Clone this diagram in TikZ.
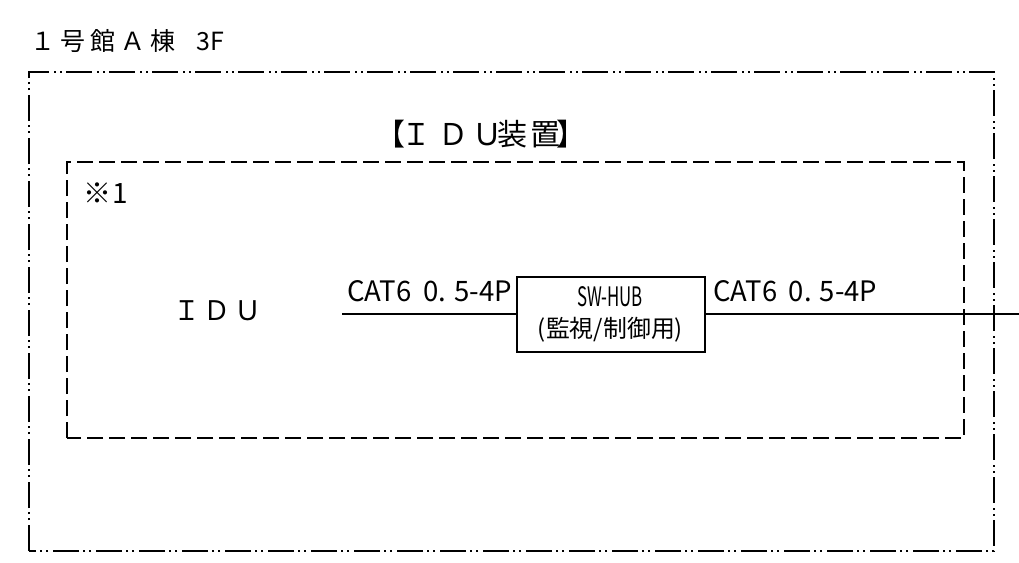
\documentclass[tikz,border=0pt]{standalone}
\usepackage{fontspec}
\setmainfont{Noto Sans CJK JP}
\newfontfamily\jp{Noto Sans CJK JP}
\begin{document}
\begin{tikzpicture}[x=1pt,y=-1pt,
  outerline/.style={line width=1.3pt,dash pattern=on 26pt off 5pt on 2pt off 4pt on 2pt off 4pt},
  innerline/.style={line width=1.3pt,dash pattern=on 16pt off 6pt},
  wire/.style={line width=1.2pt},
  hubbox/.style={draw,line width=1.2pt,minimum width=188pt,minimum height=75pt,inner sep=0pt},
  lbl/.style={inner sep=0pt,font=\jp}]
\useasboundingbox (0,0) rectangle (1019,562);
\draw[outerline] (29,551) -- (29,72) -- (994,72) -- (994,551) -- cycle;
\draw[innerline] (67,438) -- (67,162) -- (964,162) -- (964,438) -- cycle;
\node[lbl,anchor=base west,font=\jp\fontsize{25}{30}\selectfont] (title) at (30,50)
  {１\kern5pt 号\kern5pt 館\kern5pt Ａ\kern5pt 棟\kern21pt 3F};
\node[lbl,anchor=base west,font=\jp\fontsize{30}{34}\selectfont] (idutitle) at (375.4,145)
  {【\kern-4.4pt Ｉ\kern7pt Ｄ\kern4pt Ｕ\kern-5pt 装\kern3pt 置\kern-3.4pt 】};
\node[lbl,anchor=base west,font=\jp\fontsize{28}{32}\selectfont] (note) at (83,203) {※\kern1pt 1};
\node[lbl,anchor=base west,font=\jp\fontsize{27}{31}\selectfont] (idu) at (173,320) {Ｉ\kern3.5pt Ｄ\kern3.5pt Ｕ};
\node[hubbox] (hub) at (611,314.5) {};
\node[lbl] (hubname) at (610,297) {\resizebox{66pt}{20pt}{SW-HUB}};
\node[lbl] (hubuse) at (610.5,330) {\resizebox*{145pt}{25pt}{(監視/制御用)}};
\coordinate (lstart) at (342,314);
\coordinate (rend) at (1019,314);
\draw[wire] (lstart) -- (hub.west |- lstart);
\draw[wire] (hub.east |- rend) -- (rend);
\node[lbl,anchor=base west] (catl) at (347,301) {\resizebox{165pt}{21pt}{CAT6\kern0.2em\ 0. 5-4P}};
\node[lbl,anchor=base west] (catr) at (713,301) {\resizebox{164pt}{21pt}{CAT6\kern0.2em\ 0. 5-4P}};
\end{tikzpicture}
\end{document}
